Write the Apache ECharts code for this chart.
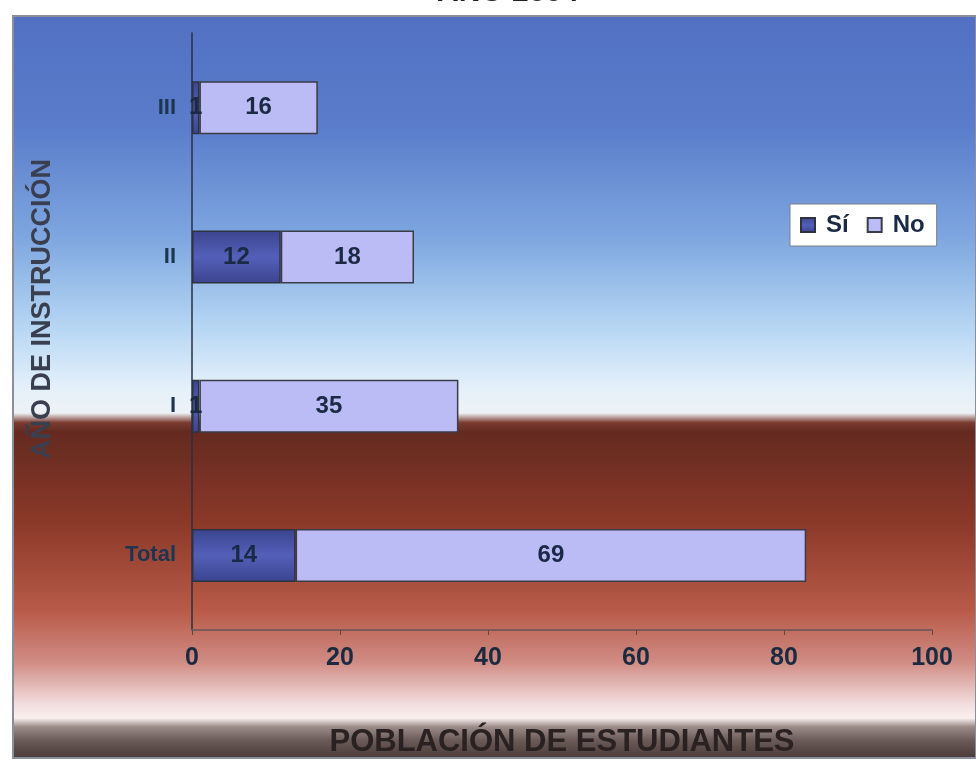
<!DOCTYPE html>
<html><head><meta charset="utf-8">
<script src="https://cdn.jsdelivr.net/npm/echarts@6/dist/echarts.min.js"></script>
<style>html,body{margin:0;padding:0;background:#fff}#c{width:976px;height:763px}</style>
</head><body><div id="c"></div>
<script>
const categories = ['Total', 'I', 'II', 'III'];
const siValues = [14, 1, 12, 1];
const noValues = [69, 35, 18, 16];
const xTicks = [0, 20, 40, 60, 80, 100];
const seriesNames = ['Sí', 'No'];

const chart = echarts.init(document.getElementById('c'));
const FF = '"Liberation Sans", Arial, sans-serif';
const labelStyle = {show: true, position: 'inside', color: '#1a2a44', fontFamily: FF, fontWeight: 'bold', fontSize: 24};
chart.setOption({
  animation: false,
  title: {text: 'AÑO 2004', left: 432, top: -27, textStyle: {fontFamily: FF, fontWeight: 'bold', fontSize: 30, color: '#222'}},
  graphic: [{
    type: 'rect', z: -10, silent: true,
    shape: {x: 13, y: 16, width: 963, height: 742},
    style: {
      stroke: '#8a8f99', lineWidth: 2,
      fill: new echarts.graphic.LinearGradient(0, 0, 0, 1, [
        {offset: 0.00, color: '#5270c2'},
        {offset: 0.15, color: '#5a7cca'},
        {offset: 0.30, color: '#7ea7e0'},
        {offset: 0.42, color: '#b6d6f3'},
        {offset: 0.50, color: '#e4f0fa'},
        {offset: 0.535, color: '#eef2f6'},
        {offset: 0.548, color: '#7a3a30'},
        {offset: 0.56, color: '#642a20'},
        {offset: 0.68, color: '#8a3828'},
        {offset: 0.80, color: '#b85a48'},
        {offset: 0.87, color: '#d08c84'},
        {offset: 0.925, color: '#f2dcdc'},
        {offset: 0.945, color: '#faf0ee'},
        {offset: 0.957, color: '#9a8a88'},
        {offset: 0.975, color: '#6a5a58'},
        {offset: 1.00, color: '#483a38'}
      ])
    }
  }],
  legend: {
    data: seriesNames, left: 790, top: 204, orient: 'horizontal', icon: 'rect',
    backgroundColor: '#ffffff', borderColor: '#7a7f8a', borderWidth: 1,
    padding: [9, 12, 9, 10], itemGap: 18, itemWidth: 14, itemHeight: 14,
    textStyle: {fontFamily: FF, fontWeight: 'bold', fontSize: 24, color: '#1a2a44', padding: [0, 0, 0, 6]}
  },
  grid: {left: 192, right: 44, top: 33, bottom: 131, containLabel: false},
  xAxis: {
    type: 'value', min: 0, max: 100, interval: 20,
    name: 'POBLACIÓN DE ESTUDIANTES', nameLocation: 'middle', nameGap: 97,
    nameTextStyle: {fontFamily: FF, fontWeight: 'bold', fontSize: 31, color: '#2a2222'},
    axisLine: {show: true, lineStyle: {color: '#7a5a5a', width: 2}},
    axisTick: {show: true, length: 5, lineStyle: {color: '#5a4a4a'}},
    splitLine: {show: false},
    axisLabel: {margin: 16, fontFamily: FF, fontWeight: 'bold', fontSize: 25, color: '#1a2a40',
      formatter: v => xTicks.includes(v) ? String(v) : ''}
  },
  yAxis: {
    type: 'category', data: categories,
    name: 'AÑO DE INSTRUCCIÓN', nameLocation: 'middle', nameGap: 136, nameRotate: 90,
    nameTextStyle: {fontFamily: FF, fontWeight: 'bold', fontSize: 27, color: '#3a3f50', padding: [0, 0, 0, 45]},
    axisLine: {show: true, lineStyle: {color: '#2a2f40', width: 1.5}},
    axisTick: {show: false},
    axisLabel: {margin: 16, fontFamily: FF, fontWeight: 'bold', fontSize: 22, color: '#1e3550'}
  },
  series: [
    {name: seriesNames[0], type: 'bar', stack: 't', data: siValues, barWidth: 53,
      itemStyle: {color: new echarts.graphic.LinearGradient(0, 0, 0, 1, [
        {offset: 0, color: '#3a448f'}, {offset: 0.5, color: '#5460b8'}, {offset: 1, color: '#3a448f'}]),
        borderColor: '#2f3340', borderWidth: 1.5},
      label: labelStyle},
    {name: seriesNames[1], type: 'bar', stack: 't', data: noValues, barWidth: 53,
      itemStyle: {color: '#bbbbf5', borderColor: '#3a3d48', borderWidth: 1.5},
      label: labelStyle}
  ]
});
</script></body></html>
